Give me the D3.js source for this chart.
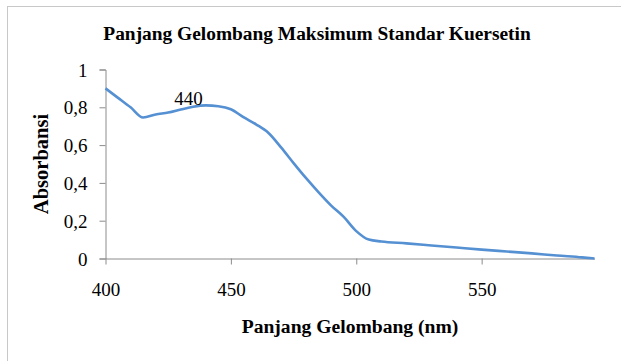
<!DOCTYPE html>
<html>
<head>
<meta charset="utf-8">
<script src="https://cdn.jsdelivr.net/npm/d3@7"></script>
<style>
  html, body { margin: 0; padding: 0; background: #fff; }
  svg { display: block; }
  text { font-family: "Liberation Serif", "Times New Roman", Times, "DejaVu Serif", serif; fill: #000; }
</style>
</head>
<body>
<svg id="chart" width="621" height="361"></svg>
<script>
// Absorbance spectrum of the quercetin standard
const wavelengths = [400, 405, 410, 415, 420, 425, 430, 435, 440, 445, 450, 455, 460, 465, 470, 475, 480, 485, 490, 495, 500, 505, 510, 520, 530, 540, 550, 560, 570, 580, 590, 595];
const absorbance  = [0.900, 0.850, 0.800, 0.746, 0.762, 0.772, 0.788, 0.803, 0.810, 0.806, 0.790, 0.748, 0.710, 0.664, 0.588, 0.505, 0.425, 0.350, 0.280, 0.220, 0.145, 0.100, 0.090, 0.080, 0.069, 0.058, 0.047, 0.037, 0.027, 0.016, 0.006, 0.000];
const xTicks = [400, 450, 500, 550];
const yTicks = [0, 0.2, 0.4, 0.6, 0.8, 1];
const peakLabel = { wavelength: 440, value: 0.810, text: "440" };

const titleText = "Panjang Gelombang Maksimum Standar Kuersetin";
const xTitle = "Panjang Gelombang (nm)";
const yTitle = "Absorbansi";

const svg = d3.select("#chart");

// chart area frame
svg.append("rect")
  .attr("x", 7.5).attr("y", 6.5)
  .attr("width", 700).attr("height", 400)
  .attr("fill", "none").attr("stroke", "#c8c8c8").attr("stroke-width", 1);

const x = d3.scaleLinear().domain([400, 595]).range([105.5, 594.5]);
const y = d3.scaleLinear().domain([0, 1]).range([258.5, 69.5]);

const axisColor = "#8c8c8c";
const fmt = d => d === 0 ? "0" : d === 1 ? "1" : d3.format(".1f")(d).replace(".", ",");

// y axis
const gy = svg.append("g")
  .attr("transform", `translate(${x(400)},0)`)
  .call(d3.axisLeft(y).tickValues(yTicks).tickFormat(fmt).tickSize(6).tickPadding(12));
gy.attr("font-family", null);
gy.select(".domain").attr("stroke", axisColor);
gy.selectAll(".tick line").attr("stroke", axisColor);
gy.selectAll(".tick text")
  .attr("font-size", 19).attr("fill", "#000").attr("dy", "0.35em");

// x axis
const gx = svg.append("g")
  .attr("transform", `translate(0,${y(0)})`)
  .call(d3.axisBottom(x).tickValues(xTicks).tickSize(6).tickSizeOuter(0).tickPadding(18));
gx.attr("font-family", null);
gx.select(".domain").attr("stroke", axisColor);
gx.selectAll(".tick line").attr("stroke", axisColor);
gx.selectAll(".tick text")
  .attr("font-size", 19).attr("fill", "#000");

// absorbance curve
const line = d3.line()
  .x((d, i) => x(wavelengths[i]))
  .y(d => y(d))
  .curve(d3.curveMonotoneX);

svg.append("path")
  .datum(absorbance)
  .attr("d", line)
  .attr("fill", "none")
  .attr("stroke", "#5590d3")
  .attr("stroke-width", 2.6)
  .attr("stroke-linejoin", "round");

// peak annotation
svg.append("text")
  .attr("x", x(peakLabel.wavelength) - 3)
  .attr("y", y(peakLabel.value))
  .attr("text-anchor", "end")
  .attr("font-size", 19)
  .text(peakLabel.text);

// titles
svg.append("text")
  .attr("x", 317).attr("y", 40)
  .attr("text-anchor", "middle")
  .attr("font-size", 19.4).attr("font-weight", "bold")
  .text(titleText);

svg.append("text")
  .attr("x", 350).attr("y", 333)
  .attr("text-anchor", "middle")
  .attr("font-size", 19.6).attr("font-weight", "bold")
  .text(xTitle);

svg.append("text")
  .attr("transform", "translate(48,164) rotate(-90)")
  .attr("text-anchor", "middle")
  .attr("font-size", 20.5).attr("font-weight", "bold")
  .text(yTitle);
</script>
</body>
</html>
